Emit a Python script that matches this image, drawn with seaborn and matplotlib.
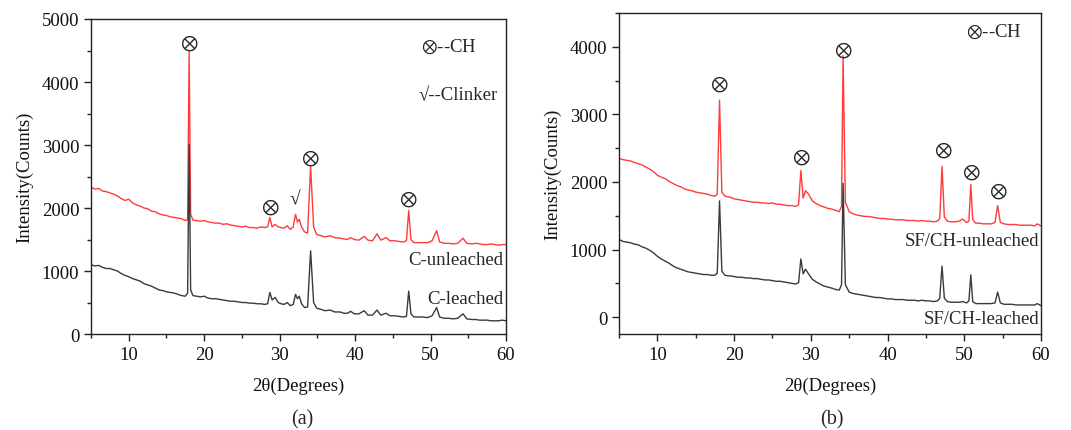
import numpy as np
import pandas as pd
import matplotlib
matplotlib.use("Agg")
import matplotlib.pyplot as plt
from matplotlib.ticker import MultipleLocator
import seaborn as sns

# ---------------- data: panel (a) ----------------
two_theta_a = [
    5, 5.5, 6, 6.5, 7, 7.5, 8, 8.5, 9, 9.5,
    10, 10.5, 11, 11.5, 12, 12.5, 13, 13.5, 14, 14.5,
    15, 15.5, 16, 16.5, 17, 17.5, 17.8, 18.0, 18.2, 18.5,
    19, 19.5, 20, 20.5, 21, 21.5, 22, 22.5, 23, 23.5,
    24, 24.5, 25, 25.5, 26, 26.5, 27, 27.5, 28, 28.4,
    28.7, 29.0, 29.4, 29.8, 30.2, 30.6, 31.0, 31.4, 31.8, 32.1,
    32.35, 32.6, 32.9, 33.3, 33.7, 34.1, 34.5, 34.9, 35.5, 36,
    36.7, 37.3, 38, 38.5, 39, 39.4, 39.9, 40.5, 41.2, 41.7,
    42.3, 42.9, 43.4, 44.1, 44.6, 45.2, 45.8, 46.4, 46.8, 47.1,
    47.4, 47.8, 48.5, 49, 49.6, 50.2, 50.8, 51.2, 51.8, 52.4,
    53, 53.6, 54.3, 54.8, 55.5, 56, 56.5, 57, 57.5, 58,
    58.5, 59, 59.5, 60,
]
c_unleached = [
    2330, 2300, 2310, 2270, 2260, 2240, 2220, 2190, 2150, 2120,
    2140, 2080, 2050, 2030, 2000, 1990, 1950, 1940, 1910, 1890,
    1880, 1860, 1850, 1840, 1830, 1800, 1820, 4480, 1900, 1810,
    1800, 1790, 1800, 1780, 1770, 1760, 1760, 1740, 1750, 1730,
    1720, 1710, 1700, 1710, 1690, 1690, 1680, 1700, 1690, 1700,
    1850, 1700, 1740, 1700, 1690, 1680, 1720, 1660, 1700, 1900,
    1780, 1820, 1700, 1620, 1600, 2660, 1700, 1580, 1560, 1540,
    1560, 1530, 1520, 1510, 1500, 1530, 1500, 1490, 1550, 1490,
    1480, 1590, 1490, 1530, 1480, 1480, 1470, 1460, 1480, 1960,
    1500, 1450, 1450, 1450, 1450, 1480, 1640, 1460, 1440, 1440,
    1430, 1440, 1520, 1440, 1430, 1440, 1430, 1420, 1420, 1430,
    1420, 1410, 1420, 1420,
]
c_leached = [
    1100, 1080, 1090, 1060, 1040, 1040, 1020, 1000, 960, 930,
    910, 880, 860, 840, 800, 780, 760, 730, 700, 690,
    670, 660, 650, 630, 610, 600, 650, 3010, 700, 610,
    600, 590, 600, 570, 560, 560, 550, 540, 530, 520,
    520, 510, 500, 500, 490, 490, 480, 480, 470, 480,
    660, 540, 580, 500, 480, 470, 500, 450, 470, 630,
    560, 600, 480, 420, 430, 1320, 500, 410, 390, 370,
    380, 350, 350, 330, 330, 360, 320, 320, 370, 300,
    300, 380, 300, 330, 290, 290, 280, 270, 280, 680,
    320, 270, 270, 270, 260, 290, 420, 270, 250, 250,
    240, 250, 320, 240, 230, 230, 220, 220, 220, 210,
    210, 210, 220, 210,
]

# ---------------- data: panel (b) ----------------
two_theta_b = [
    5, 5.5, 6, 6.5, 7, 7.5, 8, 8.5, 9, 9.5,
    10, 10.5, 11, 11.5, 12, 12.5, 13, 13.5, 14, 14.5,
    15, 15.5, 16, 16.5, 17, 17.5, 17.8, 18.1, 18.4, 18.8,
    19.2, 19.6, 20, 20.5, 21, 21.5, 22, 22.5, 23, 23.5,
    24, 24.5, 25, 25.5, 26, 26.5, 27, 27.5, 28, 28.4,
    28.7, 29.0, 29.3, 29.7, 30.2, 30.7, 31.2, 31.7, 32.2, 32.7,
    33.2, 33.7, 34.0, 34.2, 34.5, 35.0, 35.5, 36, 36.5, 37,
    37.5, 38, 38.5, 39, 39.5, 40, 40.5, 41, 41.5, 42,
    42.5, 43, 43.5, 44, 44.5, 45, 45.5, 46, 46.5, 46.8,
    47.1, 47.4, 47.8, 48.3, 48.8, 49.3, 49.8, 50.3, 50.6, 50.85,
    51.1, 51.5, 52, 52.5, 53, 53.5, 54.0, 54.35, 54.7, 55.2,
    55.7, 56.2, 56.7, 57.2, 57.7, 58.2, 58.7, 59.2, 59.5, 60,
]
sfch_unleached = [
    2350, 2330, 2320, 2310, 2290, 2270, 2250, 2220, 2190, 2150,
    2100, 2070, 2050, 2010, 1980, 1950, 1930, 1900, 1880, 1870,
    1850, 1840, 1830, 1820, 1800, 1790, 1820, 3210, 1850, 1790,
    1780, 1770, 1750, 1740, 1730, 1720, 1710, 1700, 1700, 1690,
    1690, 1680, 1690, 1670, 1670, 1660, 1650, 1650, 1640, 1660,
    2170, 1760, 1870, 1820, 1720, 1680, 1650, 1630, 1610, 1600,
    1580, 1560, 1640, 3870, 1700, 1560, 1530, 1510, 1500, 1490,
    1490, 1480, 1470, 1460, 1460, 1450, 1450, 1440, 1440, 1440,
    1430, 1430, 1430, 1420, 1430, 1420, 1420, 1410, 1420, 1460,
    2230, 1480, 1420, 1410, 1410, 1420, 1450, 1400, 1420, 1960,
    1440, 1390, 1390, 1380, 1380, 1380, 1400, 1650, 1400, 1380,
    1370, 1370, 1370, 1360, 1360, 1360, 1360, 1350, 1380, 1350,
]
sfch_leached = [
    1150, 1120, 1110, 1100, 1080, 1070, 1040, 1020, 990, 950,
    900, 860, 830, 800, 760, 730, 710, 690, 670, 660,
    650, 640, 630, 630, 620, 620, 650, 1720, 680, 620,
    610, 610, 600, 590, 590, 580, 580, 570, 570, 560,
    550, 550, 540, 530, 530, 520, 510, 500, 490, 510,
    860, 640, 710, 640, 560, 520, 490, 460, 445, 430,
    410, 400, 480, 1980, 480, 370, 350, 340, 330, 320,
    310, 300, 290, 290, 280, 270, 270, 260, 260, 260,
    250, 250, 250, 240, 250, 240, 240, 230, 240, 280,
    755, 280, 230, 220, 220, 220, 230, 210, 240, 625,
    230, 200, 200, 200, 200, 200, 210, 370, 210, 190,
    190, 190, 180, 180, 180, 180, 180, 180, 200, 170,
]

# annotation positions (2theta, intensity)
ch_marks_a = [(18.0, 4620), (28.7, 2020), (34.1, 2800), (47.1, 2150)]
clinker_marks_a = [(32.0, 2150)]
ch_marks_b = [(18.1, 3450), (28.7, 2370), (34.2, 3960), (47.2, 2480), (50.9, 2150), (54.4, 1870)]

# ---------------- styling ----------------
sns.set_style("ticks")
plt.rcParams['font.family'] = ['Liberation Serif', 'DejaVu Sans']
plt.rcParams['mathtext.fontset'] = 'stix'
FS = 13.5
RED = '#ff3b3b'
BLACK = '#3a3a3a'
OTIMES = r'$\otimes$'

fig = plt.figure(figsize=(10.71, 4.31), dpi=100)
axA = fig.add_axes([0.085, 0.2227, 0.3875, 0.7309])
axB = fig.add_axes([0.578, 0.2227, 0.394, 0.7448])

dfa = pd.DataFrame({'x': two_theta_a, 'C-leached': c_leached, 'C-unleached': c_unleached})
dfb = pd.DataFrame({'x': two_theta_b, 'SF/CH-leached': sfch_leached, 'SF/CH-unleached': sfch_unleached})

sns.lineplot(data=dfa, x='x', y='C-unleached', ax=axA, color=RED, lw=1.0, sort=False, estimator=None)
sns.lineplot(data=dfa, x='x', y='C-leached', ax=axA, color=BLACK, lw=1.0, sort=False, estimator=None)
sns.lineplot(data=dfb, x='x', y='SF/CH-unleached', ax=axB, color=RED, lw=1.0, sort=False, estimator=None)
sns.lineplot(data=dfb, x='x', y='SF/CH-leached', ax=axB, color=BLACK, lw=1.0, sort=False, estimator=None)

for ax in (axA, axB):
    ax.set_xlim(5, 60)
    ax.xaxis.set_major_locator(MultipleLocator(10))
    ax.xaxis.set_minor_locator(MultipleLocator(5))
    ax.yaxis.set_major_locator(MultipleLocator(1000))
    ax.yaxis.set_minor_locator(MultipleLocator(500))
    ax.tick_params(which='major', direction='out', length=5, width=1, labelsize=FS,
                   colors='#222222', labelcolor='#111111')
    ax.tick_params(which='minor', direction='out', length=3, width=1, colors='#222222')
    ax.tick_params(top=False, right=False)
    for s in ax.spines.values():
        s.set_visible(True)
        s.set_linewidth(1.0)
        s.set_color('#222222')
    ax.set_xlabel('2θ(Degrees)', fontsize=FS, labelpad=10, color='#111111')
    ax.set_ylabel('Intensity(Counts)', fontsize=FS, labelpad=6, color='#111111')

axA.set_ylim(0, 5000)
axB.set_ylim(-250, 4500)

for (x, y) in ch_marks_a:
    axA.text(x, y, OTIMES, ha='center', va='center', fontsize=15)
for (x, y) in clinker_marks_a:
    axA.text(x, y, '√', ha='center', va='center', fontsize=14)
for (x, y) in ch_marks_b:
    axB.text(x, y, OTIMES, ha='center', va='center', fontsize=15)

axA.text(48.7, 4570, OTIMES + '--CH', ha='left', va='center', fontsize=FS)
axA.text(48.4, 3800, '√--Clinker', ha='left', va='center', fontsize=FS)
axA.text(59.6, 1190, 'C-unleached', ha='right', va='center', fontsize=FS)
axA.text(59.6, 560, 'C-leached', ha='right', va='center', fontsize=FS)

axB.text(50.2, 4240, OTIMES + '--CH', ha='left', va='center', fontsize=FS)
axB.text(59.8, 1140, 'SF/CH-unleached', ha='right', va='center', fontsize=FS)
axB.text(59.8, -20, 'SF/CH-leached', ha='right', va='center', fontsize=FS)

fig.text(302 / 1071, 1 - 420 / 431, '(a)', ha='center', va='center', fontsize=FS + 1)
fig.text(832 / 1071, 1 - 420 / 431, '(b)', ha='center', va='center', fontsize=FS + 1)

fig.savefig('out.png', dpi=100, facecolor='white')
